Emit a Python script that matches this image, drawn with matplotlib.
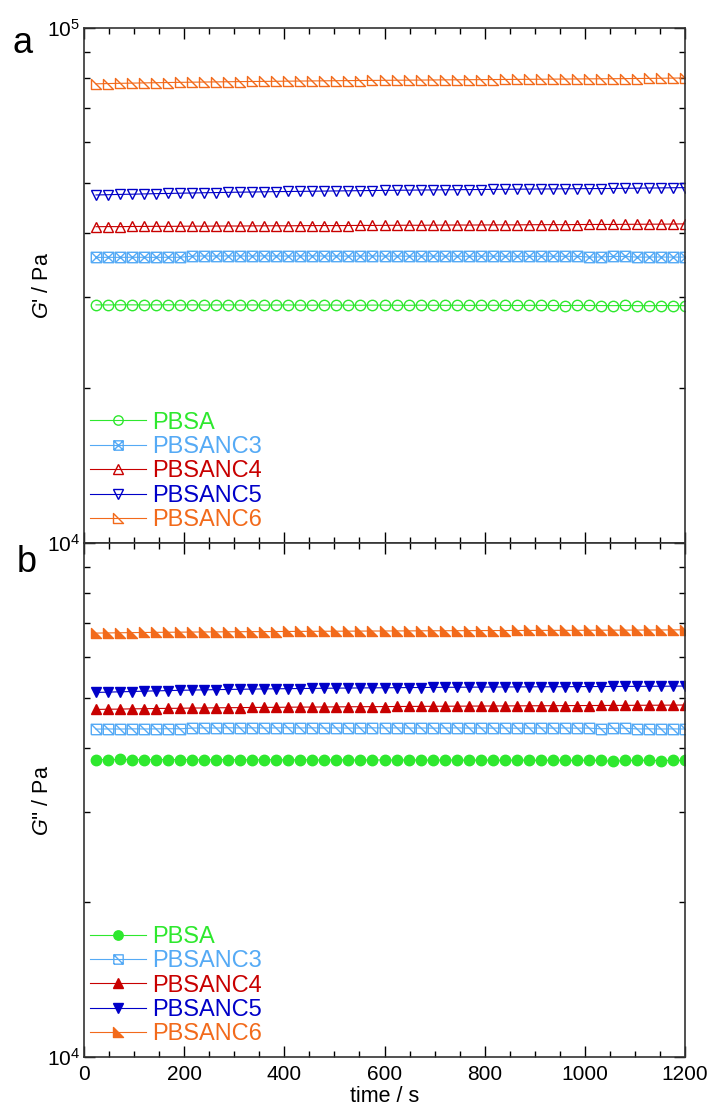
import matplotlib
matplotlib.use("Agg")
import matplotlib.pyplot as plt
from matplotlib.path import Path
from matplotlib.ticker import LogLocator, NullFormatter, MultipleLocator, FixedLocator, FixedFormatter

plt.rcParams['font.family'] = ['Liberation Sans', 'DejaVu Sans']
plt.rcParams['mathtext.fontset'] = 'custom'
plt.rcParams['mathtext.rm'] = 'Liberation Sans'
plt.rcParams['mathtext.it'] = 'Liberation Sans:italic'

# time (s)
time_s = [24, 48, 72, 96, 120, 144, 168, 192, 216, 240, 264, 288, 312, 336, 360,
          384, 408, 432, 456, 480, 504, 528, 552, 576, 600, 624, 648, 672, 696, 720,
          744, 768, 792, 816, 840, 864, 888, 912, 936, 960, 984, 1008, 1032, 1056,
          1080, 1104, 1128, 1152, 1176, 1200]

labels = ["PBSA", "PBSANC3", "PBSANC4", "PBSANC5", "PBSANC6"]
colors = ["#2ee82e", "#55aaf5", "#c80000", "#0000c8", "#f26a1b"]

# G' (Pa)
gp_pbsa = [29000, 28990, 29010, 29000, 28990, 29000, 29010, 28990, 29000, 28980,
           28990, 29000, 28980, 28990, 28970, 28980, 28990, 28970, 28960, 28980,
           28970, 28960, 28950, 28970, 28960, 28950, 28940, 28960, 28950, 28940,
           28950, 28930, 28940, 28950, 28930, 28920, 28940, 28930, 28920, 28910,
           28930, 28920, 28910, 28900, 28920, 28900, 28890, 28910, 28900, 28890]
gp_nc3 = [35850, 35870, 35860, 35880, 35870, 35860, 35880, 35870, 36060, 36080,
          36070, 36090, 36080, 36070, 36090, 36080, 36070, 36080, 36090, 36070,
          36080, 36060, 36070, 36080, 36060, 36070, 36050, 36060, 36070, 36050,
          36060, 36040, 36050, 36060, 36040, 36050, 36030, 36040, 36050, 36030,
          36040, 35900, 35920, 36020, 36010, 35900, 35910, 35920, 35900, 35910]
gp_nc4 = [41130, 41150, 41140, 41170, 41180, 41200, 41190, 41210, 41230, 41220,
          41250, 41260, 41250, 41280, 41290, 41300, 41290, 41320, 41330, 41340,
          41330, 41350, 41370, 41360, 41380, 41390, 41400, 41390, 41420, 41430,
          41440, 41430, 41450, 41460, 41470, 41460, 41490, 41500, 41510, 41500,
          41530, 41540, 41550, 41540, 41570, 41580, 41590, 41600, 41620, 41650]
gp_nc5 = [47400, 47450, 47520, 47560, 47620, 47680, 47720, 47780, 47820, 47870,
          47910, 47960, 48000, 48030, 48070, 48110, 48140, 48170, 48200, 48230,
          48260, 48290, 48320, 48350, 48380, 48400, 48430, 48460, 48480, 48500,
          48530, 48550, 48570, 48600, 48620, 48640, 48660, 48680, 48700, 48720,
          48740, 48760, 48780, 48800, 48830, 48860, 48890, 48920, 48950, 48980]
gp_nc6 = [77900, 78000, 78080, 78150, 78230, 78300, 78360, 78420, 78480, 78530,
          78580, 78630, 78680, 78720, 78760, 78800, 78840, 78880, 78920, 78960,
          79000, 79030, 79070, 79100, 79140, 79170, 79200, 79230, 79260, 79290,
          79320, 79350, 79380, 79410, 79440, 79470, 79500, 79530, 79560, 79590,
          79620, 79650, 79680, 79710, 79740, 79780, 79820, 79870, 79920, 79980]

# G'' (Pa)
gpp_pbsa = [3790, 3788, 3792, 3789, 3790, 3787, 3791, 3788, 3789, 3786,
            3788, 3790, 3787, 3785, 3788, 3786, 3784, 3787, 3785, 3783,
            3786, 3784, 3782, 3785, 3783, 3781, 3784, 3782, 3780, 3783,
            3781, 3779, 3782, 3780, 3778, 3781, 3779, 3777, 3780, 3778,
            3776, 3779, 3777, 3760, 3775, 3778, 3776, 3774, 3777, 3775]
gpp_nc3 = [4345, 4348, 4346, 4350, 4347, 4349, 4352, 4350, 4365, 4368,
           4366, 4370, 4367, 4369, 4366, 4368, 4370, 4367, 4369, 4366,
           4368, 4365, 4367, 4369, 4366, 4368, 4365, 4367, 4364, 4366,
           4368, 4365, 4367, 4364, 4366, 4363, 4365, 4367, 4364, 4366,
           4363, 4365, 4350, 4362, 4364, 4348, 4350, 4347, 4349, 4346]
gpp_nc4 = [4745, 4750, 4752, 4758, 4760, 4765, 4768, 4770, 4775, 4776,
           4780, 4782, 4784, 4787, 4789, 4790, 4793, 4795, 4796, 4798,
           4800, 4802, 4803, 4805, 4806, 4808, 4809, 4811, 4812, 4814,
           4815, 4816, 4818, 4819, 4820, 4822, 4823, 4824, 4825, 4827,
           4828, 4829, 4830, 4831, 4832, 4834, 4835, 4836, 4838, 4840]
gpp_nc5 = [5120, 5128, 5135, 5142, 5150, 5157, 5163, 5170, 5175, 5180,
           5185, 5190, 5194, 5198, 5202, 5205, 5208, 5211, 5214, 5217,
           5220, 5222, 5225, 5227, 5229, 5231, 5233, 5235, 5237, 5239,
           5241, 5243, 5244, 5246, 5247, 5249, 5250, 5252, 5253, 5254,
           5256, 5257, 5258, 5260, 5261, 5262, 5264, 5265, 5267, 5270]
gpp_nc6 = [6680, 6685, 6690, 6694, 6698, 6702, 6705, 6708, 6711, 6714,
           6716, 6719, 6721, 6723, 6725, 6727, 6729, 6731, 6733, 6735,
           6737, 6738, 6740, 6742, 6743, 6745, 6746, 6748, 6749, 6751,
           6752, 6753, 6755, 6756, 6757, 6758, 6760, 6761, 6762, 6763,
           6764, 6766, 6767, 6768, 6769, 6771, 6772, 6774, 6776, 6779]

# custom markers
M, L, C = Path.MOVETO, Path.LINETO, Path.CLOSEPOLY
box_x = Path([(-1, -1), (1, -1), (1, 1), (-1, 1), (-1, -1), (-1, -1), (1, 1), (-1, 1), (1, -1)],
             [M, L, L, L, L, M, L, M, L])
box_bs = Path([(-1, -1), (1, -1), (1, 1), (-1, 1), (-1, -1), (-1, 1), (1, -1)],
              [M, L, L, L, L, M, L])
corner_tri = Path([(-1, 1), (-1, -1), (1, -1), (-1, 1)], [M, L, L, C])

fig = plt.figure(figsize=(7.1, 11.1), dpi=100)
ax1 = fig.add_axes([0.1183, 0.5108, 0.8465, 0.464])
ax2 = fig.add_axes([0.1183, 0.0477, 0.8465, 0.4631])

top_series = [gp_pbsa, gp_nc3, gp_nc4, gp_nc5, gp_nc6]
top_markers = ['o', box_x, '^', 'v', corner_tri]
bot_series = [gpp_pbsa, gpp_nc3, gpp_nc4, gpp_nc5, gpp_nc6]
bot_markers = ['o', box_bs, '^', 'v', corner_tri]
bot_filled = [True, False, True, True, True]

for vals, mk, col, lab in zip(top_series, top_markers, colors, labels):
    ax1.plot(time_s, vals, color=col, lw=0.8, marker=mk, ms=7.5, mfc='none',
             mec=col, mew=1.0, label=lab)

for vals, mk, col, lab, filled in zip(bot_series, bot_markers, colors, labels, bot_filled):
    ax2.plot(time_s, vals, color=col, lw=0.8, marker=mk, ms=7.5,
             mfc=col if filled else 'none', mec=col, mew=1.0, label=lab)

for ax in (ax1, ax2):
    ax.set_xlim(0, 1200)
    ax.set_yscale('log')
    ax.xaxis.set_major_locator(MultipleLocator(200))
    ax.xaxis.set_minor_locator(MultipleLocator(50))
    ax.yaxis.set_minor_locator(LogLocator(base=10, subs=range(2, 10)))
    ax.yaxis.set_minor_formatter(NullFormatter())
    ax.tick_params(which='both', direction='in', top=True, right=True,
                   labelsize=15, colors='black', pad=3)
    ax.tick_params(axis='x', pad=6)
    ax.tick_params(which='major', length=8, width=1)
    ax.tick_params(which='minor', length=4, width=1)
    for s in ax.spines.values():
        s.set_color('#333333')
        s.set_linewidth(1.2)
    ax.legend(loc='lower left', bbox_to_anchor=(-0.01, 0.0), frameon=False,
              fontsize=17, handlelength=2.4, handletextpad=0.25, labelspacing=0.1,
              borderaxespad=0.4, borderpad=0.1, labelcolor='linecolor',
              markerscale=0.9)

ax1.set_ylim(1e4, 1e5)
ax1.yaxis.set_major_locator(FixedLocator([1e4, 1e5]))
ax1.yaxis.set_major_formatter(FixedFormatter(['$10^4$', '$10^5$']))
ax1.tick_params(labelbottom=False)
ax1.set_ylabel("$G$' / Pa", fontsize=15.5)
ax1.yaxis.set_label_coords(-0.052, 0.5)

ax2.set_ylim(1e3, 1e4)
ax2.yaxis.set_major_locator(FixedLocator([1e3, 1e4]))
ax2.yaxis.set_major_formatter(FixedFormatter(['$10^4$', '']))
ax2.set_ylabel("$G$'' / Pa", fontsize=15.5)
ax2.yaxis.set_label_coords(-0.052, 0.5)
ax2.set_xlabel("time / s", fontsize=15.5, labelpad=1)

fig.text(0.018, 1 - 53 / 1110, "a", fontsize=26, va='baseline')
fig.text(0.024, 1 - 572 / 1110, "b", fontsize=26, va='baseline')

fig.savefig("out.png", dpi=100)
